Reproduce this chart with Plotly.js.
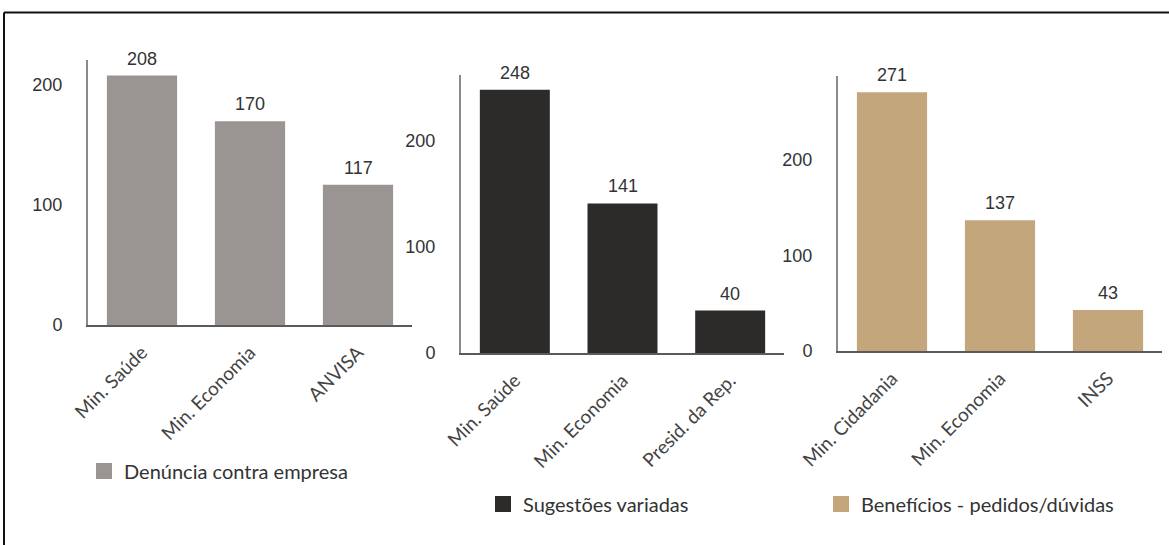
<!DOCTYPE html>
<html>
<head>
<meta charset="utf-8">
<script src="https://cdn.plot.ly/plotly-3.0.1.min.js"></script>
<style>html,body{margin:0;padding:0;background:#fff}#chart{width:1169px;height:545px}</style>
</head>
<body>
<div id="chart"></div>
<script>
// ---- data ----
const cats1 = ["Min. Saúde", "Min. Economia", "ANVISA"];
const vals1 = [208, 170, 117];
const name1 = "Denúncia contra empresa";

const cats2 = ["Min. Saúde", "Min. Economia", "Presid. da Rep."];
const vals2 = [248, 141, 40];
const name2 = "Sugestões variadas";

const cats3 = ["Min. Cidadania", "Min. Economia", "INSS"];
const vals3 = [271, 137, 43];
const name3 = "Benefícios - pedidos/dúvidas";

const yTicks = [0, 100, 200];

// ---- styles ----
const W = 1169, H = 545;
const colors = ["#9a9592", "#2d2b29", "#c4a67c"];
const numFont = {family: "Liberation Sans, Arial, sans-serif", size: 18, color: "#333"};
const lblFont = {family: "Lato, sans-serif", size: 19, color: "#444"};
const px = v => v / W;
const py = v => 1 - v / H;

const panels = [
  {cats: cats1, vals: vals1, name: name1, xd: [88, 412], yd: [325, 60], range: [0, 221], leg: [106, 471]},
  {cats: cats2, vals: vals2, name: name2, xd: [461, 784], yd: [353, 75], range: [0, 262], leg: [505, 504]},
  {cats: cats3, vals: vals3, name: name3, xd: [838, 1162], yd: [351, 76], range: [0, 288], leg: [843, 504]}
];

const data = [];
const layout = {
  width: W, height: H,
  margin: {l: 0, r: 0, t: 0, b: 0},
  paper_bgcolor: "#fff", plot_bgcolor: "#fff",
  bargap: 0.35,
  annotations: [],
  shapes: [
    {type: "line", xref: "paper", yref: "paper", x0: px(4), x1: 1.01, y0: py(12.5), y1: py(12.5), line: {color: "#111", width: 2}},
    {type: "line", xref: "paper", yref: "paper", x0: px(4), x1: px(4), y0: py(12.5), y1: -0.02, line: {color: "#111", width: 2}}
  ]
};

panels.forEach((p, i) => {
  const n = i === 0 ? "" : String(i + 1);
  const xa = "x" + n, ya = "y" + n;
  data.push({
    type: "bar", x: p.cats, y: p.vals, xaxis: xa, yaxis: ya,
    marker: {color: colors[i]}, showlegend: false, hoverinfo: "x+y"
  });
  // legend-only entry
  data.push({
    type: "scatter", mode: "markers", x: [null], y: [null], xaxis: xa, yaxis: ya,
    name: p.name, legend: "legend" + n,
    marker: {symbol: "square", size: 19, color: colors[i]}, showlegend: true
  });
  layout["xaxis" + n] = {
    domain: [px(p.xd[0]), px(p.xd[1])], anchor: ya,
    showline: true, linecolor: "#5a5a5a", linewidth: 2,
    showgrid: false, zeroline: false, ticks: "",
    tickangle: -45, tickfont: lblFont, ticklabelstandoff: 7,
    fixedrange: true
  };
  layout["yaxis" + n] = {
    domain: [py(p.yd[0]), py(p.yd[1])], anchor: xa,
    range: p.range, tickvals: yTicks,
    showline: true, linecolor: "#8a8a8a", linewidth: 2,
    showgrid: false, zeroline: false, ticks: "",
    tickfont: numFont, ticklabelstandoff: 20,
    fixedrange: true
  };
  layout["legend" + n] = {
    x: px(p.leg[0] - 22), y: py(p.leg[1]), xanchor: "left", yanchor: "middle",
    font: {family: "Lato, sans-serif", size: 20, color: "#333"},
    bgcolor: "rgba(0,0,0,0)", borderwidth: 0
  };
  p.cats.forEach((c, j) => {
    layout.annotations.push({
      xref: xa, yref: ya, x: c, y: p.vals[j], text: String(p.vals[j]),
      showarrow: false, yanchor: "bottom", yshift: 5, font: numFont
    });
  });
});

Plotly.newPlot("chart", data, layout, {displayModeBar: false, staticPlot: true});
</script>
</body>
</html>
